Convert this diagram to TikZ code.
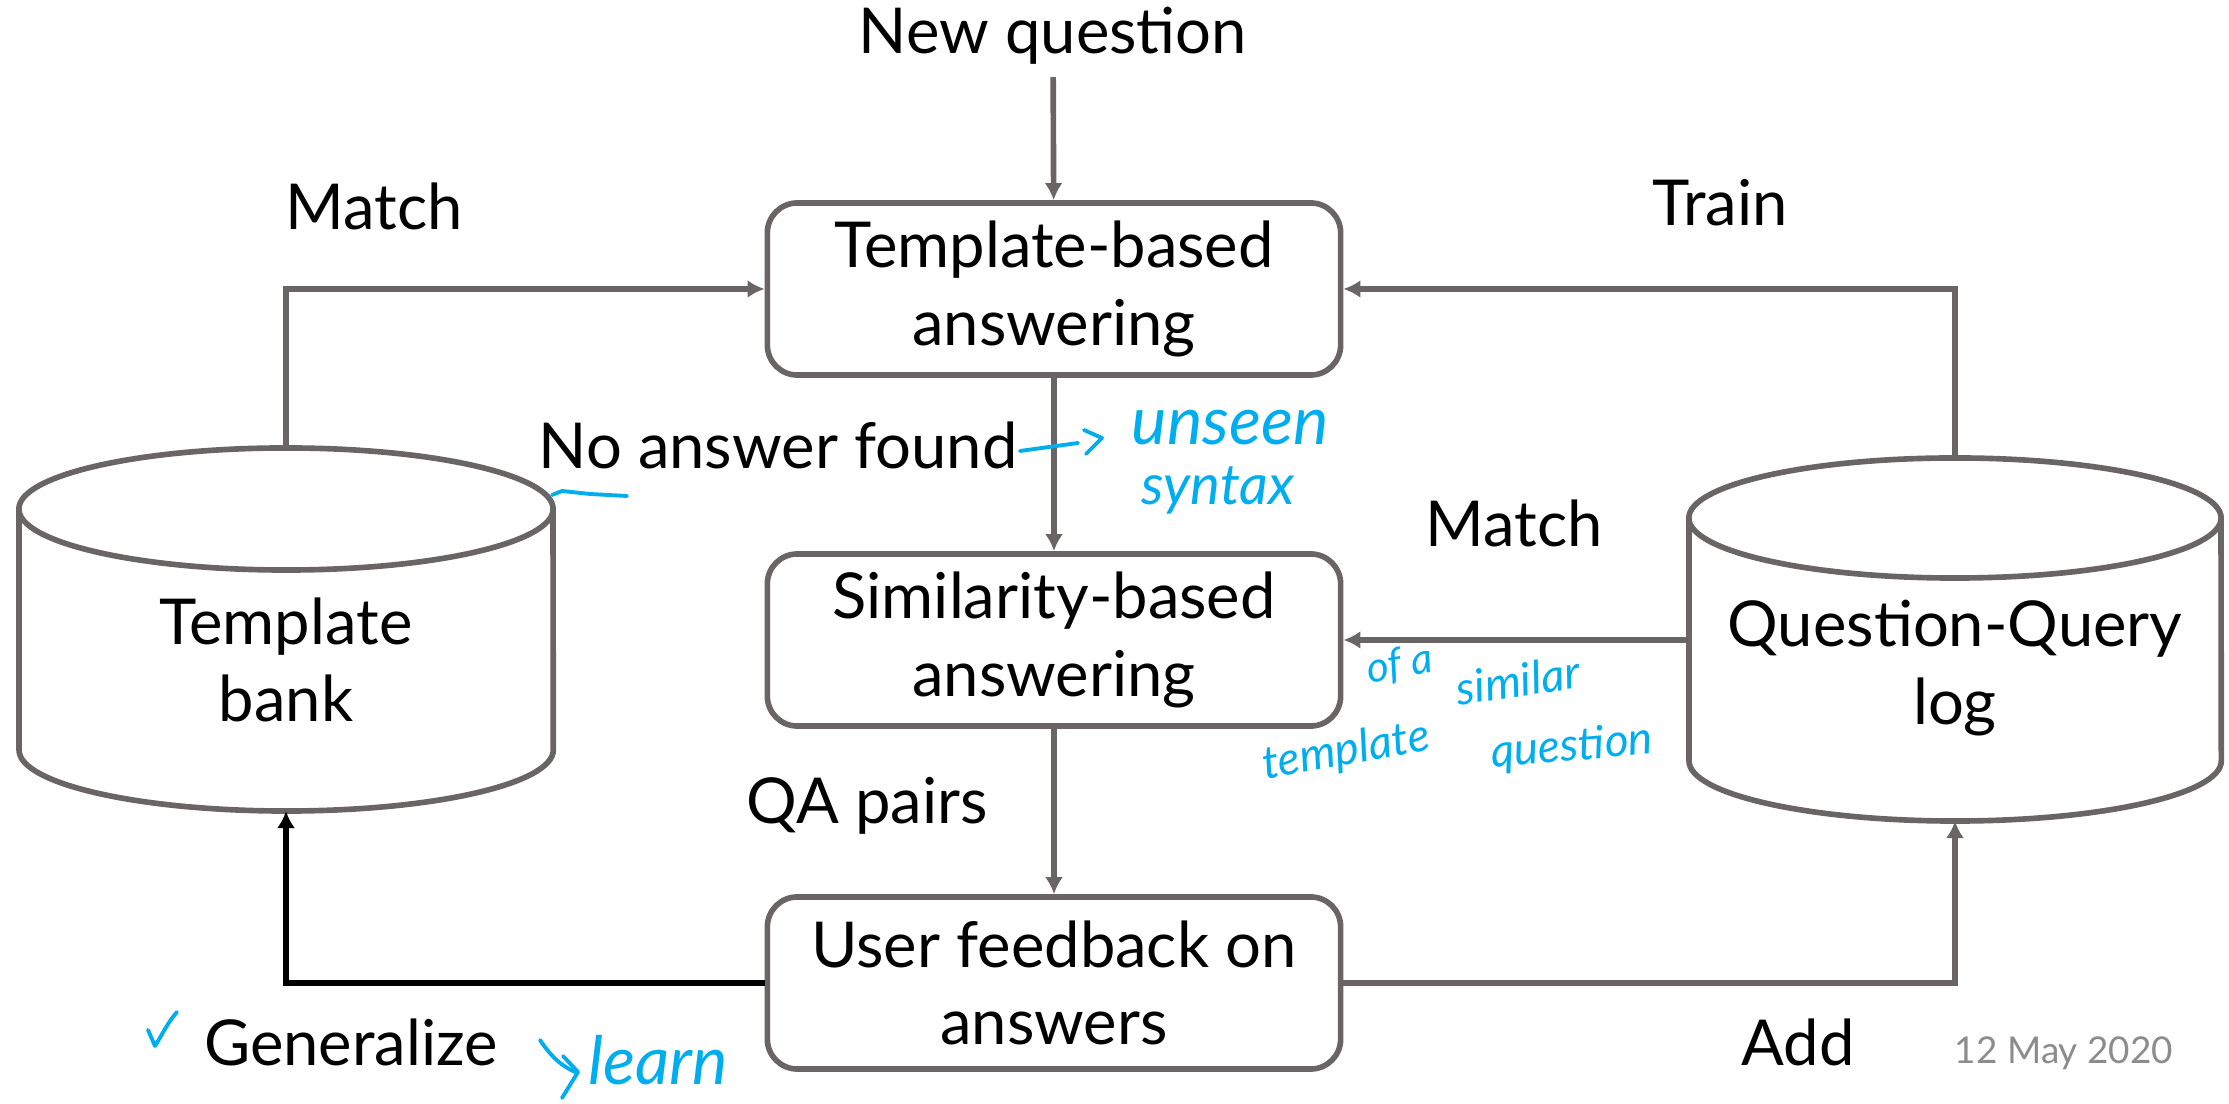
\documentclass[tikz,border=0pt]{standalone}
\usepackage{fontspec}
\setmainfont{Lato}
\usetikzlibrary{arrows.meta}
\definecolor{linegray}{RGB}{105,101,100}
\definecolor{inkblue}{RGB}{0,174,239}
\definecolor{dategray}{RGB}{140,140,140}
\tikzset{
    box/.style = {draw = linegray, line width = 1.6pt, rounded corners = 0.3cm,
        minimum width = 5.73cm, minimum height = 1.72cm, align = center,
        font = \fontsize{18}{22}\selectfont},
    lbl/.style = {font = \fontsize{18}{22}\selectfont, align = center},
    cyl/.style = {draw = linegray, line width = 1.6pt},
    arr/.style = {draw = linegray, line width = 1.6pt, -{Latex[length = 0.17cm, width = 0.18cm]}},
    ink/.style = {draw = inkblue, line width = 1.1pt, line cap = round, line join = round},
    inktext/.style = {text = inkblue, font = \itshape, inner sep = 0.5pt}
}
\begin{document}
\begin{tikzpicture}[x = 0.01cm, y = -0.01cm]
    \useasboundingbox (0, 0) rectangle (2229, 1104);
    % boxes
    \node [lbl] (newq) at (1053, 36) {New question};
    \node [box] (tpl) at (1054, 289) {Template-based\\answering};
    \node [box] (sim) at (1054, 640) {Similarity-based\\answering};
    \node [box] (fb) at (1054, 983) {User feedback on\\answers};
    % template bank
    \draw [cyl] (286, 509) ellipse [x radius = 2.67cm, y radius = 0.61cm];
    \draw [cyl] (19, 509) -- (19, 750) arc [start angle = 180, end angle = 360, x radius = 2.67cm, y radius = 0.61cm] -- (553, 509);
    \coordinate (bankTop) at (286, 448);
    \coordinate (bankBot) at (286, 811);
    \node [lbl] (bank) at (286, 660) {Template\\bank};
    % question-query log
    \draw [cyl] (1955, 518) ellipse [x radius = 2.66cm, y radius = 0.60cm];
    \draw [cyl] (1689, 518) -- (1689, 761) arc [start angle = 180, end angle = 360, x radius = 2.66cm, y radius = 0.60cm] -- (2221, 518);
    \coordinate (qqTop) at (1955, 458);
    \coordinate (qqBot) at (1955, 821);
    \coordinate (qqLeft) at (1689, 640);
    \node [lbl] (qq) at (1955, 668) {Question-Query\\log};
    % connectors
    \draw [arr] (newq) -- (tpl);
    \draw [arr] (bankTop) |- (tpl.west);
    \draw [arr] (qqTop) |- (tpl.east);
    \draw [arr] (tpl) -- (sim);
    \draw [arr] (qqLeft) -- (sim.east);
    \draw [arr] (sim) -- (fb);
    \draw [line width = 1.9pt, -{Latex[length = 0.17cm, width = 0.18cm]}] (fb.west) -| (bankBot);
    \draw [arr] (fb.east) -| (qqBot);
    % labels
    \node [lbl] (match1) at (374, 206) {Match};
    \node [lbl] (train) at (1720, 203) {Train};
    \node [lbl] (noans) at (778, 445) {No answer found};
    \node [lbl] (match2) at (1514, 523) {Match};
    \node [lbl] (qapairs) at (867, 806) {QA pairs};
    \node [lbl] (general) at (351, 1042) {Generalize};
    \node [lbl] (add) at (1798, 1042) {Add};
    \node [text = dategray, font = \fontsize{10.5}{12}\selectfont] (date) at (2064, 1053) {12 May 2020};
    % handwritten notes
    \draw [ink] (1020, 451) -- (1078, 443);
    \draw [ink] (1084, 430) -- (1102, 438) -- (1086, 454);
    \node [inktext, font = \itshape\fontsize{19}{19}\selectfont] (unseen) at (1230, 428) {unseen};
    \node [inktext, font = \itshape\fontsize{16}{16}\selectfont] (syntax) at (1218, 490) {syntax};
    \draw [ink] (552, 495) -- (562, 491) -- (590, 494) -- (627, 496);
    \node [inktext, font = \itshape\fontsize{12}{12}\selectfont, rotate = 10] (ofa) at (1400, 665) {of a};
    \node [inktext, font = \itshape\fontsize{13}{13}\selectfont, rotate = 8] (similar) at (1518, 680) {similar};
    \node [inktext, font = \itshape\fontsize{13}{13}\selectfont, rotate = 10] (templ) at (1346, 752) {template};
    \node [inktext, font = \itshape\fontsize{13}{13}\selectfont, rotate = 5] (quest) at (1572, 748) {question};
    \draw [ink] (148, 1030) -- (155, 1046) .. controls (162, 1035) and (168, 1022) .. (177, 1012);
    \draw [ink] (540, 1040) .. controls (552, 1058) and (562, 1066) .. (575, 1072);
    \draw [ink] (563, 1056) -- (578, 1072) -- (562, 1098);
    \node [inktext, font = \itshape\fontsize{19}{19}\selectfont] (learn) at (658, 1060) {learn};
\end{tikzpicture}
\end{document}
